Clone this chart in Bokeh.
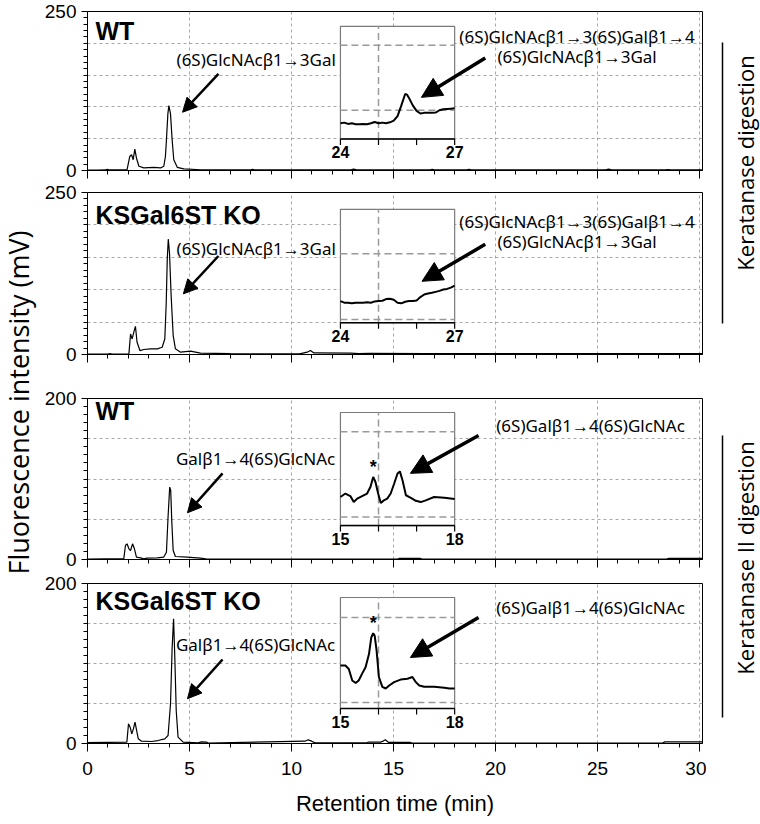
import math
from bokeh.plotting import figure
from bokeh.models import Range1d, FixedTicker, SingleIntervalTicker, Arrow, NormalHead
from bokeh.layouts import row, column
from bokeh.embed import file_html
from bokeh.resources import INLINE
from bokeh.core.properties import value

# ------------------------------------------------------------------ data
X_MAX = 30.15
x_tick_interval = 5

# Panel A: WT, keratanase digestion (mV vs min)
wt_k_time = [0.0, 0.5, 0.9, 0.96, 1.05, 1.5, 1.94, 2.07, 2.16, 2.24, 2.32, 2.40, 2.52, 2.76,
             3.25, 3.58, 3.74, 3.82, 3.87, 3.94, 3.99, 4.07, 4.15, 4.23, 4.40, 4.72, 5.54,
             6.5, 8.0, 8.1, 8.2, 10.0, 12.9, 13.05, 13.2, 15.0, 16.8, 16.9, 17.0, 18.6,
             18.7, 18.8, 21.0, 25.4, 25.55, 25.7, 28.3, 28.45, 28.6, 30.15]
wt_k_mv = [0.8, 0.8, 0.9, 1.8, 0.9, 0.9, 1.5, 22, 24.8, 17, 33.6, 19.7, 6.7, 4.1,
           5.0, 4.0, 6.7, 22, 48, 89, 102, 89, 48, 17, 5.0, 2.6, 1.2,
           1.0, 1.0, 1.8, 1.0, 0.9, 1.0, 2.2, 1.0, 1.0, 1.0, 2.0, 1.0, 1.0,
           1.8, 1.0, 1.0, 1.0, 2.2, 1.0, 1.0, 1.6, 1.0, 1.0]

# Panel B: KSGal6ST KO, keratanase digestion
ko_k_time = [0.0, 1.0, 1.1, 1.2, 2.03, 2.11, 2.19, 2.27, 2.35, 2.43, 2.57, 2.76, 3.09, 3.42,
             3.66, 3.79, 3.86, 3.91, 3.96, 4.02, 4.10, 4.20, 4.31, 4.56, 5.05, 5.54, 7.0,
             10.4, 10.77, 10.93, 11.1, 12.9, 13.3, 13.8, 16.6, 20.0, 25.6, 27.0, 30.15]
ko_k_mv = [0.8, 0.8, 1.6, 0.8, 1.0, 31.7, 24, 34.4, 43.4, 19, 6.1, 7.7, 8.7, 8.7,
           11.2, 24, 80, 147, 178, 157, 91, 29.6, 8.7, 3.6, 5.1, 2.0, 1.2,
           1.0, 3.6, 6.1, 2.5, 2.0, 1.5, 1.8, 1.5, 1.2, 1.5, 1.2, 1.2]

# Panel C: WT, keratanase II digestion
wt_k2_time = [0.0, 1.78, 1.86, 1.94, 2.03, 2.11, 2.21, 2.30, 2.40, 2.60, 2.76, 2.92, 3.42,
              3.74, 3.87, 3.95, 4.03, 4.08, 4.13, 4.20, 4.31, 4.88, 5.54, 5.86, 10.0,
              15.2, 15.3, 16.3, 16.4, 20.0, 28.4, 28.5, 30.15]
wt_k2_mv = [0.5, 1.0, 17.4, 19.5, 13.3, 11.2, 19.5, 13.3, 3.0, 2.1, 0.8, 1.7, 2.1,
            3.0, 9.1, 53, 89.9, 85.7, 48.4, 11.2, 3.7, 3.0, 1.7, 0.5, 0.5,
            0.5, 1.5, 1.5, 0.5, 0.5, 0.5, 1.5, 1.5]

# Panel D: KSGal6ST KO, keratanase II digestion
ko_k2_time = [0.0, 1.93, 2.01, 2.09, 2.17, 2.25, 2.33, 2.41, 2.49, 2.65, 3.14, 3.46, 3.79,
              3.95, 4.07, 4.15, 4.22, 4.28, 4.35, 4.44, 4.69, 5.42, 5.59, 5.83, 5.91,
              10.66, 10.82, 10.99, 11.15, 13.7, 13.79, 14.36, 14.5, 14.6, 14.75, 15.81,
              15.9, 28.2, 28.3, 30.15]
ko_k2_mv = [1.0, 1.7, 24.6, 20.4, 12, 18.3, 26.7, 16.2, 5.8, 2.9, 2.5, 3.7, 5.8,
            10, 49.6, 120, 156, 108, 41, 8, 1.7, 0.8, 2.0, 1.7, 0.6,
            2.9, 4.6, 2.9, 0.8, 0.8, 1.8, 1.8, 3.0, 4.6, 1.5, 1.5,
            0.6, 0.6, 2.0, 2.0]

# Insets (zoomed traces)
wt_k_in_time = [24.0, 24.1, 24.2, 24.3, 24.4, 24.5, 24.6, 24.7, 24.8, 24.9, 25.0, 25.1, 25.2,
                25.3, 25.4, 25.5, 25.6, 25.7, 25.75, 25.8, 25.9, 26.0, 26.1, 26.2, 26.3,
                26.4, 26.5, 26.6, 26.7, 26.8, 26.9, 27.0]
wt_k_in_val = [0.60, 0.62, 0.58, 0.60, 0.57, 0.57, 0.58, 0.57, 0.60, 0.64, 0.60, 0.62, 0.60,
               0.63, 0.68, 0.82, 1.15, 1.50, 1.48, 1.38, 1.15, 0.98, 0.90, 0.92, 0.92,
               0.92, 0.93, 1.00, 1.03, 1.04, 1.05, 1.06]

ko_k_in_time = [24.0, 24.1, 24.2, 24.3, 24.4, 24.5, 24.6, 24.7, 24.8, 24.9, 25.0, 25.1, 25.2,
                25.3, 25.4, 25.5, 25.6, 25.7, 25.8, 25.9, 26.0, 26.1, 26.2, 26.3, 26.4,
                26.5, 26.6, 26.7, 26.8, 26.9, 27.0]
ko_k_in_val = [1.56, 1.51, 1.51, 1.49, 1.51, 1.51, 1.51, 1.52, 1.51, 1.55, 1.56, 1.57, 1.62,
               1.63, 1.60, 1.51, 1.49, 1.54, 1.56, 1.56, 1.58, 1.68, 1.76, 1.79, 1.81,
               1.84, 1.87, 1.91, 1.93, 1.97, 2.03]

wt_k2_in_time = [15.0, 15.13, 15.26, 15.35, 15.44, 15.57, 15.70, 15.79, 15.86, 15.92, 15.99,
                 16.06, 16.14, 16.23, 16.32, 16.41, 16.50, 16.56, 16.63, 16.72, 16.85, 16.98,
                 17.11, 17.24, 17.46, 17.73, 18.0]
wt_k2_in_val = [1.47, 1.55, 1.49, 1.35, 1.43, 1.49, 1.55, 1.71, 1.94, 1.82, 1.55,
                1.33, 1.39, 1.43, 1.55, 1.78, 2.02, 2.07, 1.86, 1.51, 1.45, 1.38,
                1.35, 1.39, 1.47, 1.45, 1.42]

ko_k2_in_time = [15.0, 15.13, 15.22, 15.31, 15.40, 15.48, 15.57, 15.66, 15.75, 15.81, 15.86,
                 15.90, 15.95, 16.01, 16.10, 16.19, 16.28, 16.41, 16.58, 16.76, 16.89, 16.98,
                 17.07, 17.20, 17.46, 17.73, 17.86, 18.0]
ko_k2_in_val = [1.87, 1.87, 1.79, 1.52, 1.46, 1.52, 1.68, 1.83, 2.14, 2.53, 2.63,
                2.57, 2.22, 1.60, 1.37, 1.33, 1.40, 1.48, 1.54, 1.56, 1.60, 1.48,
                1.40, 1.37, 1.37, 1.35, 1.33, 1.33]

panel_labels = ["WT", "KSGal6ST KO", "WT", "KSGal6ST KO"]
ann_keratanase = "(6S)GlcNAcβ1→3Gal"
ann_keratanase_inset = ["(6S)GlcNAcβ1→3(6S)Galβ1→4", "(6S)GlcNAcβ1→3Gal"]
ann_k2 = "Galβ1→4(6S)GlcNAc"
ann_k2_inset = ["(6S)Galβ1→4(6S)GlcNAc"]
y_title = "Fluorescence intensity (mV)"
x_title = "Retention time (min)"
side_labels = ["Keratanase digestion", "Keratanase II digestion"]

# ------------------------------------------------------------------ styling / layout
LEFT_W = 40
PANEL_LEFT = 47          # frame starts at x = 87
PANEL_RIGHT = 4
FRAME_W = 615
PW = PANEL_LEFT + FRAME_W + PANEL_RIGHT
RIGHT_W = 760 - LEFT_W - PW
FIG_H = [181, 195, 195, 250]
TOTAL_H = sum(FIG_H)
AXIS_FONT = "Liberation Sans"
TICK_FONT = value("Liberation Sans")
ANN_FONT = value("Noto Sans")
TITLE_FONT = value("Open Sans")


def extra(main_lo, main_hi, box_lo, box_hi, in_lo, in_hi):
    k = (in_hi - in_lo) / (box_hi - box_lo)
    return Range1d(start=in_lo + (main_lo - box_lo) * k, end=in_lo + (main_hi - box_lo) * k)


def make_panel(height, top, bottom, ymax, t, v, label, label_y, ann, ann_pos,
               in_lines, in_pos, arrows, inset, show_x):
    p = figure(width=PW, height=height, x_range=Range1d(0, X_MAX), y_range=Range1d(0, ymax),
               output_backend="svg", toolbar_location=None,
               min_border_left=PANEL_LEFT, min_border_right=PANEL_RIGHT, min_border_top=top,
               min_border_bottom=bottom, background_fill_color="white",
               border_fill_color="white")
    p.outline_line_color = "black"
    p.outline_line_width = 1

    xa = p.xaxis[0]
    xa.ticker = SingleIntervalTicker(interval=x_tick_interval, num_minor_ticks=5)
    xa.major_tick_out = 8
    xa.major_tick_in = 0
    xa.minor_tick_out = 4
    xa.minor_tick_in = 0
    xa.axis_line_color = "black"
    xa.major_tick_line_color = "black"
    xa.minor_tick_line_color = "black"
    if show_x:
        xa.major_label_text_font = AXIS_FONT
        xa.major_label_text_font_size = "19px"
        xa.major_label_text_color = "black"
        xa.major_label_standoff = 10
        xa.axis_label = x_title
        xa.axis_label_text_font = AXIS_FONT
        xa.axis_label_text_font_size = "22px"
        xa.axis_label_text_font_style = "normal"
        xa.axis_label_text_color = "black"
        xa.axis_label_standoff = 13
    else:
        xa.major_label_text_font_size = "1px"
        xa.major_label_text_color = None
        xa.major_label_standoff = 0

    ya = p.yaxis[0]
    ya.ticker = FixedTicker(ticks=[0, ymax], minor_ticks=list(range(10, ymax, 10)))
    ya.major_tick_out = 6
    ya.major_tick_in = 0
    ya.minor_tick_out = 4
    ya.minor_tick_in = 0
    ya.major_label_text_font = AXIS_FONT
    ya.major_label_text_font_size = "19px"
    ya.major_label_text_color = "black"
    ya.major_label_standoff = 5
    ya.axis_line_color = "black"
    p.ygrid[0].ticker = FixedTicker(ticks=list(range(50, ymax, 50)))

    for g in (p.xgrid[0], p.ygrid[0]):
        g.grid_line_color = "#a8a8a8"
        g.grid_line_dash = "3 3"
        g.grid_line_width = 1

    # main trace
    p.line(t, v, line_color="black", line_width=1.2)

    # inset
    (ix0, ix1, lo, hi, ygrid, xgrid, it, iv, box, star) = inset
    bx0, bx1, by0, by1 = box
    p.extra_x_ranges = {"ix": extra(0, X_MAX, bx0, bx1, ix0, ix1)}
    p.extra_y_ranges = {"iy": extra(0, ymax, by0, by1, lo, hi)}
    kw = dict(x_range_name="ix", y_range_name="iy")
    p.quad(left=[ix0], right=[ix1], bottom=[lo], top=[hi], fill_color="white",
           line_color="#7a7a7a", line_width=1.2, **kw)
    p.segment(x0=[ix0] * len(ygrid), y0=ygrid, x1=[ix1] * len(ygrid), y1=ygrid,
              line_color="#9a9a9a", line_dash="7 4", line_width=1.5, **kw)
    p.segment(x0=[xgrid], y0=[lo], x1=[xgrid], y1=[hi],
              line_color="#9a9a9a", line_dash="7 4", line_width=1.5, **kw)
    p.line(it, iv, line_color="black", line_width=2, **kw)
    p.segment(x0=[ix0], y0=[lo], x1=[ix1], y1=[lo], line_color="black", line_width=1.5, **kw)
    p.ray(x=[ix0, ix0 + 1, ix0 + 2, ix1], y=[lo] * 4, length=6, angle=-math.pi / 2,
          length_units="screen", line_color="black", line_width=1.2, **kw)
    p.text(x=[ix0, ix1], y=[lo, lo], text=[str(ix0), str(ix1)], text_align="center",
           text_baseline="top", y_offset=7, text_font=TICK_FONT, text_font_size="16px",
           text_font_style="bold", text_color="black", **kw)
    if star is not None:
        p.text(x=[star[0]], y=[star[1]], text=["*"], text_align="center",
               text_baseline="middle", text_font=TICK_FONT, text_font_size="18px",
               text_font_style="bold", text_color="black", **kw)

    # labels
    p.text(x=[0.39], y=[label_y], text=[label], text_align="left", text_baseline="middle",
           text_font=TICK_FONT, text_font_size="25px", text_font_style="bold",
           text_color="black")
    p.text(x=[ann_pos[0]], y=[ann_pos[1]], text=[ann], text_align="center",
           text_baseline="middle", text_font=ANN_FONT, text_font_size="17px",
           text_color="black")
    p.text(x=[in_pos[0]] * len(in_lines), y=in_pos[1], text=in_lines, text_align="center",
           text_baseline="middle", text_font=ANN_FONT, text_font_size="17px",
           text_color="black")

    for (xs, ys, xe, ye, size, lw) in arrows:
        p.add_layout(Arrow(end=NormalHead(size=size, fill_color="black", line_color="black"),
                           x_start=xs, y_start=ys, x_end=xe, y_end=ye,
                           line_width=lw, line_color="black"))
    return p


p1 = make_panel(FIG_H[0], 11, 11, 250, wt_k_time, wt_k_mv, panel_labels[0], 220,
                ann_keratanase, (8.27, 175), ann_keratanase_inset, (24.0, [211, 180]),
                [(6.42, 152, 4.66, 91.6, 14, 2.5), (19.5, 177, 16.37, 115, 20, 3.5)],
                (24, 27, 0.12, 3.58, [1, 3], 25, wt_k_in_time, wt_k_in_val,
                 (12.4, 18.0, 49.7, 226.7), None), False)
p2 = make_panel(FIG_H[1], 11, 22, 250, ko_k_time, ko_k_mv, panel_labels[1], 216,
                ann_keratanase, (8.27, 164), ann_keratanase_inset, (24.0, [205.5, 175]),
                [(6.42, 152, 4.7, 93.6, 14, 2.5), (19.5, 170, 16.4, 113, 20, 3.5)],
                (24, 27, 0.90, 4.35, [1, 3], 25, ko_k_in_time, ko_k_in_val,
                 (12.4, 18.0, 49.0, 224.0), None), False)
p3 = make_panel(FIG_H[2], 22, 12, 200, wt_k2_time, wt_k2_mv, panel_labels[2], 185,
                ann_k2, (8.24, 125.5), ann_k2_inset, (24.66, [166.5]),
                [(6.62, 107, 4.9, 58, 14, 2.5), (19.17, 154, 15.83, 107, 20, 3.5)],
                (15, 18, 0.80, 3.45, [1, 3], 16, wt_k2_in_time, wt_k2_in_val,
                 (12.4, 18.0, 42.2, 182.6), (15.86, 2.17)), False)
p4 = make_panel(FIG_H[3], 12, 78, 200, ko_k2_time, ko_k2_mv, panel_labels[3], 178,
                ann_k2, (8.24, 124), ann_k2_inset, (24.66, [170]),
                [(6.62, 105, 4.9, 56, 14, 2.5), (19.17, 157.5, 15.83, 107.5, 20, 3.5)],
                (15, 18, 0.86, 3.47, [1, 3], 16, ko_k2_in_time, ko_k2_in_val,
                 (12.4, 18.0, 43.75, 182.5), (15.86, 2.86)), True)

# left: shared y title
left = figure(width=LEFT_W, height=TOTAL_H, x_range=Range1d(0, LEFT_W),
              y_range=Range1d(0, TOTAL_H), output_backend="svg", toolbar_location=None,
              x_axis_location=None, y_axis_location=None, min_border=0)
left.outline_line_color = None
left.grid.visible = False
left.text(x=[18], y=[TOTAL_H - 402], text=[y_title], angle=math.pi / 2,
          text_align="center", text_baseline="middle", text_font=TITLE_FONT,
          text_font_size="27px", text_color="black")

# right: digestion brackets
right = figure(width=RIGHT_W, height=TOTAL_H, x_range=Range1d(0, RIGHT_W),
               y_range=Range1d(0, TOTAL_H), output_backend="svg", toolbar_location=None,
               x_axis_location=None, y_axis_location=None, min_border=0)
right.outline_line_color = None
right.grid.visible = False
right.segment(x0=[16, 16], y0=[TOTAL_H - 42, TOTAL_H - 435], x1=[16, 16],
              y1=[TOTAL_H - 323, TOTAL_H - 717], line_color="black", line_width=1.5)
right.text(x=[38, 38], y=[TOTAL_H - 162.5, TOTAL_H - 557.5], text=side_labels,
           angle=math.pi / 2, text_align="center", text_baseline="middle",
           text_font=TITLE_FONT, text_font_size="22px", text_color="black")

layout = row(left, column(p1, p2, p3, p4), right)
open("out.html", "w").write(file_html(layout, INLINE))
